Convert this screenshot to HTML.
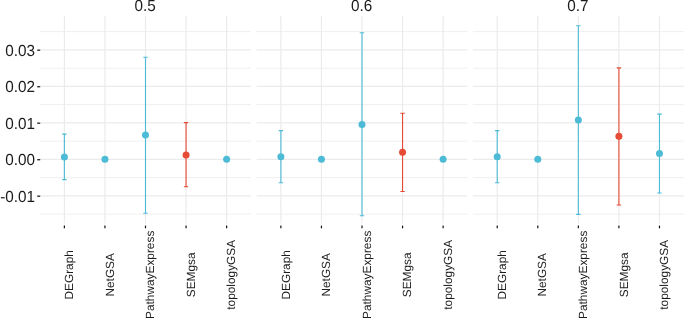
<!DOCTYPE html><html><head><meta charset="utf-8"><style>html,body{margin:0;padding:0;background:#fff;overflow:hidden}svg{display:block;will-change:transform}text{font-family:"Liberation Sans",sans-serif;fill:#1c1c1c;text-rendering:geometricPrecision}</style></head><body>
<svg width="685" height="319" viewBox="0 0 685 319">
<rect width="685" height="319" fill="#fff"/>
<line x1="40.05" x2="250.95" y1="214.15" y2="214.15" stroke="#ebebeb" stroke-width="0.8"/>
<line x1="40.05" x2="250.95" y1="177.65" y2="177.65" stroke="#ebebeb" stroke-width="0.8"/>
<line x1="40.05" x2="250.95" y1="141.15" y2="141.15" stroke="#ebebeb" stroke-width="0.8"/>
<line x1="40.05" x2="250.95" y1="104.65" y2="104.65" stroke="#ebebeb" stroke-width="0.8"/>
<line x1="40.05" x2="250.95" y1="68.15" y2="68.15" stroke="#ebebeb" stroke-width="0.8"/>
<line x1="40.05" x2="250.95" y1="31.65" y2="31.65" stroke="#ebebeb" stroke-width="0.8"/>
<line x1="40.05" x2="250.95" y1="195.90" y2="195.90" stroke="#ebebeb" stroke-width="1.2"/>
<line x1="40.05" x2="250.95" y1="159.40" y2="159.40" stroke="#ebebeb" stroke-width="1.2"/>
<line x1="40.05" x2="250.95" y1="122.90" y2="122.90" stroke="#ebebeb" stroke-width="1.2"/>
<line x1="40.05" x2="250.95" y1="86.40" y2="86.40" stroke="#ebebeb" stroke-width="1.2"/>
<line x1="40.05" x2="250.95" y1="49.90" y2="49.90" stroke="#ebebeb" stroke-width="1.2"/>
<line x1="64.38" x2="64.38" y1="16.1" y2="221" stroke="#ebebeb" stroke-width="1.2"/>
<line x1="64.38" x2="64.38" y1="221" y2="224.0" stroke="#ebebeb" stroke-width="0.8"/>
<line x1="104.94" x2="104.94" y1="16.1" y2="221" stroke="#ebebeb" stroke-width="1.2"/>
<line x1="104.94" x2="104.94" y1="221" y2="224.0" stroke="#ebebeb" stroke-width="0.8"/>
<line x1="145.50" x2="145.50" y1="16.1" y2="221" stroke="#ebebeb" stroke-width="1.2"/>
<line x1="145.50" x2="145.50" y1="221" y2="224.0" stroke="#ebebeb" stroke-width="0.8"/>
<line x1="186.06" x2="186.06" y1="16.1" y2="221" stroke="#ebebeb" stroke-width="1.2"/>
<line x1="186.06" x2="186.06" y1="221" y2="224.0" stroke="#ebebeb" stroke-width="0.8"/>
<line x1="226.62" x2="226.62" y1="16.1" y2="221" stroke="#ebebeb" stroke-width="1.2"/>
<line x1="226.62" x2="226.62" y1="221" y2="224.0" stroke="#ebebeb" stroke-width="0.8"/>
<path d="M64.38 134.1 V179.6 M62.18 134.1 H66.58 M62.18 179.6 H66.58" stroke="#4DBBD5" stroke-width="1.1" fill="none"/>
<circle cx="64.38" cy="156.9" r="3.5" fill="#4DBBD5"/>
<circle cx="104.94" cy="159.3" r="3.5" fill="#4DBBD5"/>
<path d="M145.50 57.3 V213.2 M143.30 57.3 H147.70 M143.30 213.2 H147.70" stroke="#4DBBD5" stroke-width="1.1" fill="none"/>
<circle cx="145.50" cy="135.0" r="3.5" fill="#4DBBD5"/>
<path d="M186.06 122.6 V186.7 M183.86 122.6 H188.26 M183.86 186.7 H188.26" stroke="#E64B35" stroke-width="1.1" fill="none"/>
<circle cx="186.06" cy="154.9" r="3.5" fill="#E64B35"/>
<circle cx="226.62" cy="159.3" r="3.5" fill="#4DBBD5"/>
<line x1="64.38" x2="64.38" y1="225.6" y2="228.3" stroke="#111" stroke-width="1.2"/>
<text transform="translate(73.08,274.8) rotate(-90)" text-anchor="middle" font-size="11.85">DEGraph</text>
<line x1="104.94" x2="104.94" y1="225.6" y2="228.3" stroke="#111" stroke-width="1.2"/>
<text transform="translate(113.64,274.8) rotate(-90)" text-anchor="middle" font-size="11.85">NetGSA</text>
<line x1="145.50" x2="145.50" y1="225.6" y2="228.3" stroke="#111" stroke-width="1.2"/>
<text transform="translate(154.20,274.8) rotate(-90)" text-anchor="middle" font-size="11.85">PathwayExpress</text>
<line x1="186.06" x2="186.06" y1="225.6" y2="228.3" stroke="#111" stroke-width="1.2"/>
<text transform="translate(194.76,274.8) rotate(-90)" text-anchor="middle" font-size="11.85">SEMgsa</text>
<line x1="226.62" x2="226.62" y1="225.6" y2="228.3" stroke="#111" stroke-width="1.2"/>
<text transform="translate(235.32,274.8) rotate(-90)" text-anchor="middle" font-size="11.85">topologyGSA</text>
<text transform="translate(145.10,10.5) scale(1,1.05)" text-anchor="middle" font-size="15.3">0.5</text>
<line x1="256.55" x2="467.45" y1="214.15" y2="214.15" stroke="#ebebeb" stroke-width="0.8"/>
<line x1="256.55" x2="467.45" y1="177.65" y2="177.65" stroke="#ebebeb" stroke-width="0.8"/>
<line x1="256.55" x2="467.45" y1="141.15" y2="141.15" stroke="#ebebeb" stroke-width="0.8"/>
<line x1="256.55" x2="467.45" y1="104.65" y2="104.65" stroke="#ebebeb" stroke-width="0.8"/>
<line x1="256.55" x2="467.45" y1="68.15" y2="68.15" stroke="#ebebeb" stroke-width="0.8"/>
<line x1="256.55" x2="467.45" y1="31.65" y2="31.65" stroke="#ebebeb" stroke-width="0.8"/>
<line x1="256.55" x2="467.45" y1="195.90" y2="195.90" stroke="#ebebeb" stroke-width="1.2"/>
<line x1="256.55" x2="467.45" y1="159.40" y2="159.40" stroke="#ebebeb" stroke-width="1.2"/>
<line x1="256.55" x2="467.45" y1="122.90" y2="122.90" stroke="#ebebeb" stroke-width="1.2"/>
<line x1="256.55" x2="467.45" y1="86.40" y2="86.40" stroke="#ebebeb" stroke-width="1.2"/>
<line x1="256.55" x2="467.45" y1="49.90" y2="49.90" stroke="#ebebeb" stroke-width="1.2"/>
<line x1="280.88" x2="280.88" y1="16.1" y2="221" stroke="#ebebeb" stroke-width="1.2"/>
<line x1="280.88" x2="280.88" y1="221" y2="224.0" stroke="#ebebeb" stroke-width="0.8"/>
<line x1="321.44" x2="321.44" y1="16.1" y2="221" stroke="#ebebeb" stroke-width="1.2"/>
<line x1="321.44" x2="321.44" y1="221" y2="224.0" stroke="#ebebeb" stroke-width="0.8"/>
<line x1="362.00" x2="362.00" y1="16.1" y2="221" stroke="#ebebeb" stroke-width="1.2"/>
<line x1="362.00" x2="362.00" y1="221" y2="224.0" stroke="#ebebeb" stroke-width="0.8"/>
<line x1="402.56" x2="402.56" y1="16.1" y2="221" stroke="#ebebeb" stroke-width="1.2"/>
<line x1="402.56" x2="402.56" y1="221" y2="224.0" stroke="#ebebeb" stroke-width="0.8"/>
<line x1="443.12" x2="443.12" y1="16.1" y2="221" stroke="#ebebeb" stroke-width="1.2"/>
<line x1="443.12" x2="443.12" y1="221" y2="224.0" stroke="#ebebeb" stroke-width="0.8"/>
<path d="M280.88 130.6 V182.7 M278.68 130.6 H283.08 M278.68 182.7 H283.08" stroke="#4DBBD5" stroke-width="1.1" fill="none"/>
<circle cx="280.88" cy="156.7" r="3.5" fill="#4DBBD5"/>
<circle cx="321.44" cy="159.3" r="3.5" fill="#4DBBD5"/>
<path d="M362.00 32.7 V215.7 M359.80 32.7 H364.20 M359.80 215.7 H364.20" stroke="#4DBBD5" stroke-width="1.1" fill="none"/>
<circle cx="362.00" cy="124.4" r="3.5" fill="#4DBBD5"/>
<path d="M402.56 113.2 V191.5 M400.36 113.2 H404.76 M400.36 191.5 H404.76" stroke="#E64B35" stroke-width="1.1" fill="none"/>
<circle cx="402.56" cy="152.3" r="3.5" fill="#E64B35"/>
<circle cx="443.12" cy="159.3" r="3.5" fill="#4DBBD5"/>
<line x1="280.88" x2="280.88" y1="225.6" y2="228.3" stroke="#111" stroke-width="1.2"/>
<text transform="translate(289.58,274.8) rotate(-90)" text-anchor="middle" font-size="11.85">DEGraph</text>
<line x1="321.44" x2="321.44" y1="225.6" y2="228.3" stroke="#111" stroke-width="1.2"/>
<text transform="translate(330.14,274.8) rotate(-90)" text-anchor="middle" font-size="11.85">NetGSA</text>
<line x1="362.00" x2="362.00" y1="225.6" y2="228.3" stroke="#111" stroke-width="1.2"/>
<text transform="translate(370.70,274.8) rotate(-90)" text-anchor="middle" font-size="11.85">PathwayExpress</text>
<line x1="402.56" x2="402.56" y1="225.6" y2="228.3" stroke="#111" stroke-width="1.2"/>
<text transform="translate(411.26,274.8) rotate(-90)" text-anchor="middle" font-size="11.85">SEMgsa</text>
<line x1="443.12" x2="443.12" y1="225.6" y2="228.3" stroke="#111" stroke-width="1.2"/>
<text transform="translate(451.82,274.8) rotate(-90)" text-anchor="middle" font-size="11.85">topologyGSA</text>
<text transform="translate(361.60,10.5) scale(1,1.05)" text-anchor="middle" font-size="15.3">0.6</text>
<line x1="472.90" x2="683.80" y1="214.15" y2="214.15" stroke="#ebebeb" stroke-width="0.8"/>
<line x1="472.90" x2="683.80" y1="177.65" y2="177.65" stroke="#ebebeb" stroke-width="0.8"/>
<line x1="472.90" x2="683.80" y1="141.15" y2="141.15" stroke="#ebebeb" stroke-width="0.8"/>
<line x1="472.90" x2="683.80" y1="104.65" y2="104.65" stroke="#ebebeb" stroke-width="0.8"/>
<line x1="472.90" x2="683.80" y1="68.15" y2="68.15" stroke="#ebebeb" stroke-width="0.8"/>
<line x1="472.90" x2="683.80" y1="31.65" y2="31.65" stroke="#ebebeb" stroke-width="0.8"/>
<line x1="472.90" x2="683.80" y1="195.90" y2="195.90" stroke="#ebebeb" stroke-width="1.2"/>
<line x1="472.90" x2="683.80" y1="159.40" y2="159.40" stroke="#ebebeb" stroke-width="1.2"/>
<line x1="472.90" x2="683.80" y1="122.90" y2="122.90" stroke="#ebebeb" stroke-width="1.2"/>
<line x1="472.90" x2="683.80" y1="86.40" y2="86.40" stroke="#ebebeb" stroke-width="1.2"/>
<line x1="472.90" x2="683.80" y1="49.90" y2="49.90" stroke="#ebebeb" stroke-width="1.2"/>
<line x1="497.23" x2="497.23" y1="16.1" y2="221" stroke="#ebebeb" stroke-width="1.2"/>
<line x1="497.23" x2="497.23" y1="221" y2="224.0" stroke="#ebebeb" stroke-width="0.8"/>
<line x1="537.79" x2="537.79" y1="16.1" y2="221" stroke="#ebebeb" stroke-width="1.2"/>
<line x1="537.79" x2="537.79" y1="221" y2="224.0" stroke="#ebebeb" stroke-width="0.8"/>
<line x1="578.35" x2="578.35" y1="16.1" y2="221" stroke="#ebebeb" stroke-width="1.2"/>
<line x1="578.35" x2="578.35" y1="221" y2="224.0" stroke="#ebebeb" stroke-width="0.8"/>
<line x1="618.91" x2="618.91" y1="16.1" y2="221" stroke="#ebebeb" stroke-width="1.2"/>
<line x1="618.91" x2="618.91" y1="221" y2="224.0" stroke="#ebebeb" stroke-width="0.8"/>
<line x1="659.47" x2="659.47" y1="16.1" y2="221" stroke="#ebebeb" stroke-width="1.2"/>
<line x1="659.47" x2="659.47" y1="221" y2="224.0" stroke="#ebebeb" stroke-width="0.8"/>
<path d="M497.23 130.6 V182.7 M495.03 130.6 H499.43 M495.03 182.7 H499.43" stroke="#4DBBD5" stroke-width="1.1" fill="none"/>
<circle cx="497.23" cy="156.7" r="3.5" fill="#4DBBD5"/>
<circle cx="537.79" cy="159.3" r="3.5" fill="#4DBBD5"/>
<path d="M578.35 25.8 V214.4 M576.15 25.8 H580.55 M576.15 214.4 H580.55" stroke="#4DBBD5" stroke-width="1.1" fill="none"/>
<circle cx="578.35" cy="120.1" r="3.5" fill="#4DBBD5"/>
<path d="M618.91 67.9 V205.0 M616.71 67.9 H621.11 M616.71 205.0 H621.11" stroke="#E64B35" stroke-width="1.1" fill="none"/>
<circle cx="618.91" cy="136.3" r="3.5" fill="#E64B35"/>
<path d="M659.47 114.1 V193.0 M657.27 114.1 H661.67 M657.27 193.0 H661.67" stroke="#4DBBD5" stroke-width="1.1" fill="none"/>
<circle cx="659.47" cy="153.5" r="3.5" fill="#4DBBD5"/>
<line x1="497.23" x2="497.23" y1="225.6" y2="228.3" stroke="#111" stroke-width="1.2"/>
<text transform="translate(505.93,274.8) rotate(-90)" text-anchor="middle" font-size="11.85">DEGraph</text>
<line x1="537.79" x2="537.79" y1="225.6" y2="228.3" stroke="#111" stroke-width="1.2"/>
<text transform="translate(546.49,274.8) rotate(-90)" text-anchor="middle" font-size="11.85">NetGSA</text>
<line x1="578.35" x2="578.35" y1="225.6" y2="228.3" stroke="#111" stroke-width="1.2"/>
<text transform="translate(587.05,274.8) rotate(-90)" text-anchor="middle" font-size="11.85">PathwayExpress</text>
<line x1="618.91" x2="618.91" y1="225.6" y2="228.3" stroke="#111" stroke-width="1.2"/>
<text transform="translate(627.61,274.8) rotate(-90)" text-anchor="middle" font-size="11.85">SEMgsa</text>
<line x1="659.47" x2="659.47" y1="225.6" y2="228.3" stroke="#111" stroke-width="1.2"/>
<text transform="translate(668.17,274.8) rotate(-90)" text-anchor="middle" font-size="11.85">topologyGSA</text>
<text transform="translate(577.95,10.5) scale(1,1.05)" text-anchor="middle" font-size="15.3">0.7</text>
<line x1="37.2" x2="40.2" y1="50.20" y2="50.20" stroke="#333" stroke-width="1.4"/>
<text transform="translate(35.1,55.75) scale(1,1.05)" text-anchor="end" font-size="15.3">0.03</text>
<line x1="37.2" x2="40.2" y1="86.70" y2="86.70" stroke="#333" stroke-width="1.4"/>
<text transform="translate(35.1,92.25) scale(1,1.05)" text-anchor="end" font-size="15.3">0.02</text>
<line x1="37.2" x2="40.2" y1="123.20" y2="123.20" stroke="#333" stroke-width="1.4"/>
<text transform="translate(35.1,128.75) scale(1,1.05)" text-anchor="end" font-size="15.3">0.01</text>
<line x1="37.2" x2="40.2" y1="159.70" y2="159.70" stroke="#333" stroke-width="1.4"/>
<text transform="translate(35.1,165.25) scale(1,1.05)" text-anchor="end" font-size="15.3">0.00</text>
<line x1="37.2" x2="40.2" y1="196.20" y2="196.20" stroke="#333" stroke-width="1.4"/>
<text transform="translate(35.1,201.75) scale(1,1.05)" text-anchor="end" font-size="15.3">-0.01</text>
</svg></body></html>
